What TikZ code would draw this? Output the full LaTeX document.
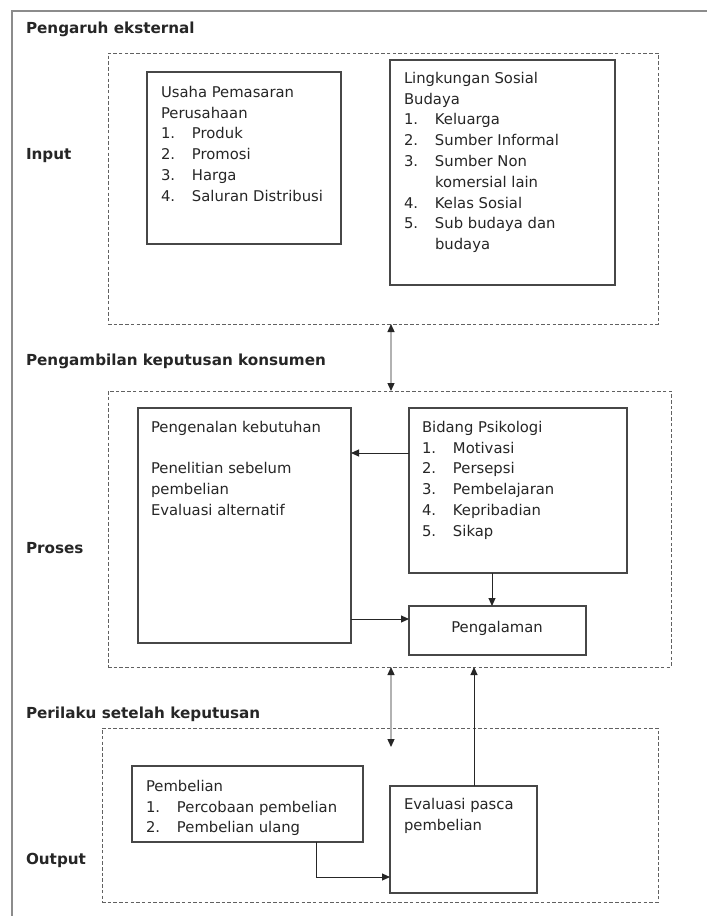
\documentclass[tikz,border=0pt]{standalone}
\usepackage{fontspec}
\setmainfont{DejaVu Sans}
\usetikzlibrary{arrows.meta}
\newcommand\numlab[1]{\makebox[31pt][l]{#1}}
\begin{document}
\begin{tikzpicture}[x=1pt,y=-1pt,
  txt/.style={inner sep=0pt, outer sep=0pt, align=left, text=black!85,
    font=\fontsize{14.8}{20.8}\selectfont},
  lbl/.style={inner sep=0pt, outer sep=0pt, anchor=base west, text=black!85,
    font=\fontsize{15.2}{18}\selectfont\bfseries},
  solidbox/.style={draw=black!72, line width=1.2pt, inner sep=0pt, outer sep=0pt, anchor=north west},
  dashbox/.style={draw=black!62, line width=1pt, dash pattern=on 3.5pt off 2.2pt, inner sep=0pt, outer sep=0pt, anchor=north west},
  arr/.style={-{Triangle[length=8pt,width=7pt]}, line width=1pt, draw=black!85},
  dbl/.style={{Triangle[length=8pt,width=7pt,color=black!85]}-{Triangle[length=8pt,width=7pt,color=black!85]}, line width=1.3pt, draw=black!30}
]
\useasboundingbox (0,0) rectangle (707,916);
\fill[white] (0,0) rectangle (707,916);
% outer frame
\draw[black!45, line width=2pt] (12,916) -- (12,11) -- (707,11);

% section labels
\node[lbl] (l1) at (26,33) {Pengaruh eksternal};
\node[lbl] (l2) at (26,159.5) {Input};
\node[lbl] (l3) at (26,365.5) {Pengambilan keputusan konsumen};
\node[lbl] (l4) at (26,553.5) {Proses};
\node[lbl] (l5) at (26,718.5) {Perilaku setelah keputusan};
\node[lbl] (l6) at (26,864.5) {Output};

% dashed groups
\node[dashbox, minimum width=550pt, minimum height=271pt] (input) at (108,53) {};
\node[dashbox, minimum width=563pt, minimum height=276pt] (proses) at (108,391) {};
\node[dashbox, minimum width=556pt, minimum height=174pt] (output) at (102,728) {};

% input boxes
\node[solidbox, minimum width=194pt, minimum height=172pt] (usaha) at (147,72) {};
\node[txt, anchor=north west] (usahat) at (161,86) {Usaha Pemasaran\\Perusahaan\\\numlab{1.}Produk\\\numlab{2.}Promosi\\\numlab{3.}Harga\\\numlab{4.}Saluran Distribusi};

\node[solidbox, minimum width=225pt, minimum height=225pt] (lingk) at (390,60) {};
\node[txt, anchor=north west] (lingkt) at (404,72) {Lingkungan Sosial\\Budaya\\\numlab{1.}Keluarga\\\numlab{2.}Sumber Informal\\\numlab{3.}Sumber Non\\\numlab{}komersial lain\\\numlab{4.}Kelas Sosial\\\numlab{5.}Sub budaya dan\\\numlab{}budaya};

% process boxes
\node[solidbox, minimum width=213pt, minimum height=235pt] (kenal) at (138,408) {};
\node[txt, anchor=north west] (kenalt) at (151,421) {Pengenalan kebutuhan\\[20.8pt]Penelitian sebelum\\pembelian\\Evaluasi alternatif};

\node[solidbox, minimum width=218pt, minimum height=165pt] (bidang) at (409,408) {};
\node[txt, anchor=north west] (bidangt) at (422,421) {Bidang Psikologi\\\numlab{1.}Motivasi\\\numlab{2.}Persepsi\\\numlab{3.}Pembelajaran\\\numlab{4.}Kepribadian\\\numlab{5.}Sikap};

\node[solidbox, minimum width=177pt, minimum height=49pt] (alam) at (409,606) {};
\node[txt, anchor=center] (alamt) at (497,628) {Pengalaman};

% output boxes
\node[solidbox, minimum width=231pt, minimum height=76pt] (beli) at (132,766) {};
\node[txt, anchor=north west] (belit) at (146,780) {Pembelian\\\numlab{1.}Percobaan pembelian\\\numlab{2.}Pembelian ulang};

\node[solidbox, minimum width=147pt, minimum height=107pt] (eval) at (390,786) {};
\node[txt, anchor=north west] (evalt) at (404,798) {Evaluasi pasca\\pembelian};

% helper coordinates
\coordinate (xa) at (391,0);
\coordinate (a2end) at (391,747);
\coordinate (yb) at (0,453);
\coordinate (xb) at (492,0);
\coordinate (yc) at (0,619);
\coordinate (xe) at (474,0);
\coordinate (xp) at (316,0);
\coordinate (yp) at (0,877);

% connectors
\draw[dbl] (input.south -| xa) -- (proses.north -| xa);
\draw[dbl] (proses.south -| xa) -- (a2end);
\draw[arr] (bidang.west |- yb) -- (kenal.east |- yb);
\draw[arr] (bidang.south -| xb) -- (alam.north -| xb);
\draw[arr] (kenal.east |- yc) -- (alam.west |- yc);
\draw[arr] (eval.north -| xe) -- (proses.south -| xe);
\draw[arr] (beli.south -| xp) |- (eval.west |- yp);
\end{tikzpicture}
\end{document}
